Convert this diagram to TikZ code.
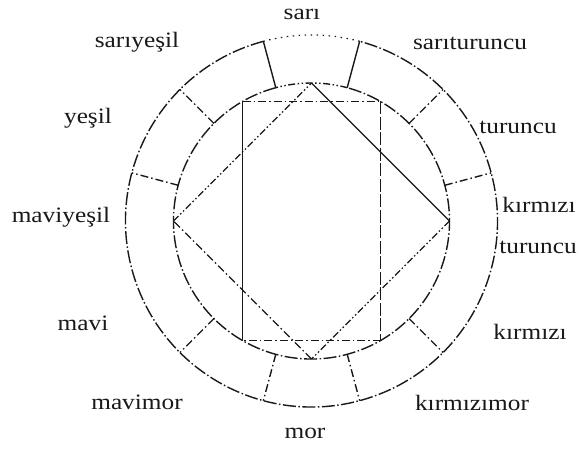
\documentclass[tikz,border=0pt]{standalone}
\usepackage{fontspec}
\setmainfont{Liberation Serif}[FakeStretch=1.15]
\begin{document}
\begin{tikzpicture}[x=1pt,y=1pt,
  ink/.style={draw=black!90, line width=1.4pt},
  ringline/.style={ink, dash pattern=on 13pt off 2.5pt on 1.5pt off 2.5pt},
  dotline/.style={ink, line width=1.2pt, dash pattern=on 1.5pt off 4.5pt},
  dashline/.style={ink, dash pattern=on 13pt off 2.5pt},
  dashdotline/.style={ink, dash pattern=on 8pt off 3pt on 1.5pt off 3pt},
  dashdotdotline/.style={ink, dash pattern=on 7pt off 2.5pt on 1.5pt off 2.5pt on 1.5pt off 2.5pt},
  solidline/.style={ink},
  lab/.style={font=\fontsize{22}{24}\selectfont, text=black!90, inner sep=0pt}]
\useasboundingbox (0,0) rectangle (581,451);
\fill[white] (0,0) rectangle (581,451);
\coordinate (C) at (311.5,230);
\begin{scope}[shift={(C)}]
  % rings
  \draw[ringline] (105:186) arc[start angle=105, end angle=435, radius=186];
  \draw[dotline] (75:186) arc[start angle=75, end angle=105, radius=186];
  \draw[ringline] (105:138) arc[start angle=105, end angle=435, radius=138];
  \draw[dashdotdotline] (75:138) arc[start angle=75, end angle=105, radius=138];
  % dividers
  \foreach \a in {15,45,135,165,225,255,285,315} {
    \coordinate (di\a) at (\a:138);
    \coordinate (do\a) at (\a:186);
    \draw[dashdotline] (di\a) -- (do\a);
  }
  \foreach \a in {75,105} {
    \coordinate (di\a) at (\a:138);
    \coordinate (do\a) at (\a:186);
    \draw[solidline] (di\a) -- (do\a);
  }
  % rectangle corners
  \coordinate (r1) at (60:138);
  \coordinate (r2) at (120:138);
  \coordinate (r3) at (240:138);
  \coordinate (r4) at (300:138);
  % diamond vertices
  \coordinate (dT) at (90:138);
  \coordinate (dR) at (0:138);
  \coordinate (dB) at (270:138);
  \coordinate (dL) at (180:138);
\end{scope}
% rectangle
\draw[dashdotline] (r2) -- (r1);
\draw[dashline] (r1) -- (r4);
\draw[dashdotline] (r4) -- (r3);
\draw[solidline] (r3) -- (r2);
% diamond
\draw[solidline] (dT) -- (dR);
\draw[dashdotdotline] (dR) -- (dB);
\draw[dashdotline] (dB) -- (dL);
\draw[dashdotdotline] (dL) -- (dT);
% labels
\node[lab] (l1) at (302,437) {sarı};
\node[lab] (l2) at (470,408) {sarıturuncu};
\node[lab] (l3) at (518,324) {turuncu};
\node[lab] (l4) at (539,246) {kırmızı};
\node[lab] (l5) at (538,204) {turuncu};
\node[lab] (l6) at (530,119) {kırmızı};
\node[lab] (l7) at (472,48) {kırmızımor};
\node[lab] (l8) at (305,18) {mor};
\node[lab] (l9) at (137,49) {mavimor};
\node[lab] (l10) at (83,128) {mavi};
\node[lab] (l11) at (61,234) {maviyeşil};
\node[lab] (l12) at (88,333) {yeşil};
\node[lab] (l13) at (137,409) {sarıyeşil};
\end{tikzpicture}
\end{document}
